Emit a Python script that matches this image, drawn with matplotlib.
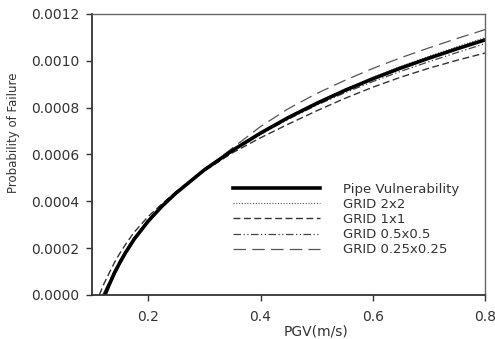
import matplotlib.pyplot as plt

# =========================
# DATA
# =========================

pgv_pipe = [0.123, 0.13, 0.14, 0.15, 0.16, 0.175, 0.2, 0.225, 0.25, 0.3, 0.35, 0.4,
            0.45, 0.5, 0.55, 0.6, 0.65, 0.7, 0.75, 0.8]
pf_pipe = [0.0, 0.000041, 0.000094, 0.000140, 0.000182, 0.000238, 0.000315, 0.000380,
           0.000436, 0.000534, 0.000617, 0.000691, 0.000758, 0.000818, 0.000873,
           0.000923, 0.000969, 0.001011, 0.001051, 0.001089]

pgv_2x2 = [0.121, 0.13, 0.14, 0.15, 0.16, 0.175, 0.2, 0.225, 0.25, 0.3, 0.35, 0.4,
           0.45, 0.5, 0.55, 0.6, 0.65, 0.7, 0.75, 0.8]
pf_2x2 = [0.0, 0.000050, 0.000102, 0.000147, 0.000188, 0.000243, 0.000318, 0.000382,
          0.000437, 0.000534, 0.000618, 0.000693, 0.000761, 0.000822, 0.000878,
          0.000929, 0.000976, 0.001019, 0.001060, 0.001099]

pgv_1x1 = [0.113, 0.12, 0.13, 0.14, 0.15, 0.16, 0.175, 0.2, 0.225, 0.25, 0.3, 0.35, 0.4,
           0.45, 0.5, 0.55, 0.6, 0.65, 0.7, 0.75, 0.8]
pf_1x1 = [0.0, 0.000042, 0.000091, 0.000139, 0.000180, 0.000217, 0.000268, 0.000335,
          0.000390, 0.000441, 0.000529, 0.000607, 0.000671, 0.000730, 0.000786,
          0.000839, 0.000887, 0.000930, 0.000968, 0.001002, 0.001033]

pgv_05 = [0.120, 0.13, 0.14, 0.15, 0.16, 0.175, 0.2, 0.225, 0.25, 0.3, 0.35, 0.4,
          0.45, 0.5, 0.55, 0.6, 0.65, 0.7, 0.75, 0.8]
pf_05 = [0.0, 0.000052, 0.000103, 0.000148, 0.000189, 0.000244, 0.000318, 0.000380,
         0.000435, 0.000532, 0.000614, 0.000686, 0.000751, 0.000810, 0.000863,
         0.000911, 0.000955, 0.000996, 0.001035, 0.001073]

pgv_025 = [0.119, 0.13, 0.14, 0.15, 0.16, 0.175, 0.2, 0.225, 0.25, 0.3, 0.35, 0.4,
           0.45, 0.5, 0.55, 0.6, 0.65, 0.7, 0.75, 0.8]
pf_025 = [0.0, 0.000055, 0.000105, 0.000150, 0.000190, 0.000245, 0.000320, 0.000383,
          0.000437, 0.000534, 0.000627, 0.000719, 0.000796, 0.000860, 0.000916,
          0.000967, 0.001013, 0.001055, 0.001095, 0.001133]

x_ticks = [0.2, 0.4, 0.6, 0.8]
y_ticks = [0.0, 0.0002, 0.0004, 0.0006, 0.0008, 0.0010, 0.0012]

# =========================
# STYLING
# =========================

plt.rcParams['font.family'] = ['DejaVu Sans']
TEXT_COLOR = '#333333'

fig = plt.figure(figsize=(4.95, 3.39), dpi=100)
ax = fig.add_axes([0.186, 0.130, 0.794, 0.829])

ax.plot(pgv_025, pf_025, color='#555555', linewidth=0.9, dashes=(10, 5),
        label='GRID 0.25x0.25')
ax.plot(pgv_1x1, pf_1x1, color='#333333', linewidth=1.0, dashes=(5, 2.5),
        label='GRID 1x1')
ax.plot(pgv_05, pf_05, color='#444444', linewidth=0.9, dashes=(6, 2, 1, 2, 1, 2),
        label='GRID 0.5x0.5')
ax.plot(pgv_2x2, pf_2x2, color='#555555', linewidth=0.8, dashes=(1, 1.5),
        label='GRID 2x2')
ax.plot(pgv_pipe, pf_pipe, color='black', linewidth=2.6,
        label='Pipe Vulnerability')

ax.set_xlim(0.1, 0.8)
ax.set_ylim(0.0, 0.0012)
ax.set_xticks(x_ticks)
ax.set_xticklabels(['0.2', '0.4', '0.6', '0.8'])
ax.set_yticks(y_ticks)
ax.set_yticklabels(['%.4f' % v for v in y_ticks])

ax.tick_params(direction='out', length=4, width=1.0, labelsize=10,
               colors=TEXT_COLOR, pad=5)
ax.tick_params(axis='x', pad=7)

for side in ['left', 'bottom']:
    ax.spines[side].set_linewidth(1.3)
    ax.spines[side].set_color(TEXT_COLOR)
for side in ['top', 'right']:
    ax.spines[side].set_linewidth(1.0)
    ax.spines[side].set_color('#666666')

ax.set_xlabel('PGV(m/s)', fontsize=10, color=TEXT_COLOR)
ax.xaxis.set_label_coords(0.570, -0.105)
ax.set_ylabel('Probability of Failure', fontsize=8.5, color=TEXT_COLOR)
ax.yaxis.set_label_coords(-0.183, 0.577)

handles, labels = ax.get_legend_handles_labels()
order = [4, 3, 1, 2, 0]
leg = ax.legend([handles[i] for i in order], [labels[i] for i in order],
                loc='upper left', bbox_to_anchor=(0.358, 0.400),
                frameon=False, fontsize=9.5, handlelength=6.6, handletextpad=1.75,
                labelspacing=0.17, borderpad=0, borderaxespad=0)
for t in leg.get_texts():
    t.set_color(TEXT_COLOR)

plt.savefig("out.png", dpi=100)
